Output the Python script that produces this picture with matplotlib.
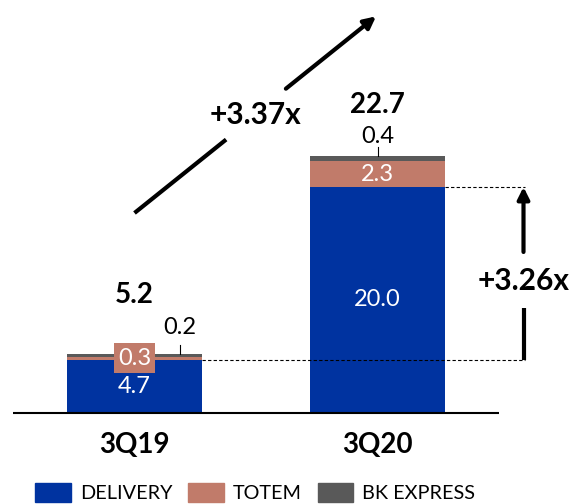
import matplotlib
matplotlib.use("Agg")
import matplotlib.pyplot as plt
from matplotlib.patches import Patch
import numpy as np

categories = ["3Q19", "3Q20"]
delivery = [4.7, 20.0]
totem = [0.3, 2.3]
bk_express = [0.2, 0.4]
totals = [5.2, 22.7]
growth_total = "+3.37x"
growth_delivery = "+3.26x"
series_names = ["DELIVERY", "TOTEM", "BK EXPRESS"]

C_DEL = "#0033A0"
C_TOT = "#C17B6A"
C_BK = "#595959"

plt.rcParams['font.family'] = ['Lato', 'DejaVu Sans']

W, H = 573, 504
fig = plt.figure(figsize=(W / 100, H / 100), dpi=100)
ax = fig.add_axes([0, 0, 1, 1])
px_x = 243.0   # pixels per x unit
px_y = 11.3    # pixels per y unit
x0_px, base_px = 134.5, 413.0
ax.set_xlim(-x0_px / px_x, (W - x0_px) / px_x)
ax.set_ylim(-(H - base_px) / px_y, base_px / px_y)
ax.axis('off')

x = np.arange(len(categories))
bw = 135 / px_x
d = np.array(delivery)
t = np.array(totem)
b = np.array(bk_express)
ax.bar(x, d, bw, color=C_DEL, zorder=2)
ax.bar(x, t, bw, bottom=d, color=C_TOT, zorder=2)
ax.bar(x, b, bw, bottom=d + t, color=C_BK, zorder=2)

# baseline
ax.plot([-0.5, 1.5], [0, 0], color='black', lw=1.5, zorder=3, solid_capstyle='butt')

# category labels
for xi, c in zip(x, categories):
    ax.text(xi, -2.8, c, ha='center', va='center', fontsize=20, fontweight='bold')

# inside labels
for xi, v in zip(x, d):
    ax.text(xi, v / 2, f"{v:.1f}", ha='center', va='center', fontsize=17, color='white', zorder=4)
# totem labels
ax.text(x[0], d[0] + t[0] / 2, f"{t[0]:.1f}", ha='center', va='center', fontsize=17, color='white', zorder=5,
        bbox=dict(boxstyle='square,pad=0.18', fc=C_TOT, ec='none'))
ax.text(x[1], d[1] + t[1] / 2, f"{t[1]:.1f}", ha='center', va='center', fontsize=17, color='white', zorder=4)

# BK express labels with leaders
ax.plot([0.187, 0.187], [totals[0], 6.0], color='black', lw=0.8, zorder=4)
ax.text(0.187, 7.6, f"{b[0]:.1f}", ha='center', va='center', fontsize=17)
ax.plot([1.0, 1.0], [totals[1], 23.5], color='black', lw=0.8, zorder=4)
ax.text(1.0, 24.5, f"{b[1]:.1f}", ha='center', va='center', fontsize=17)

# totals
ax.text(0, 10.45, f"{totals[0]:.1f}", ha='center', va='center', fontsize=20, fontweight='bold')
ax.text(1, 27.3, f"{totals[1]:.1f}", ha='center', va='center', fontsize=20, fontweight='bold')

# dashed reference lines
xr = (525 - x0_px) / px_x
for xi, v in zip(x, d):
    ax.plot([xi + bw / 2, xr], [v, v], color='black', lw=0.8, ls=(0, (3, 2)), zorder=3)

# vertical arrow with gap
xa = (523.5 - x0_px) / px_x
ax.plot([xa, xa], [d[0], 9.3], color='black', lw=3, solid_capstyle='butt')
ax.annotate('', xy=(xa, d[1]), xytext=(xa, 14.25),
            arrowprops=dict(arrowstyle='-|>,head_width=0.35,head_length=0.7', color='black', lw=3,
                            shrinkA=0, shrinkB=0))
ax.text(xa, 11.7, growth_delivery, ha='center', va='center', fontsize=21.5, fontweight='bold')

# diagonal arrow with gap
ax.plot([0, 0.377], [17.7, 24.2], color='black', lw=3, solid_capstyle='butt')
ax.annotate('', xy=(0.994, 35.1), xytext=(0.623, 28.7),
            arrowprops=dict(arrowstyle='-|>,head_width=0.35,head_length=0.7', color='black', lw=3,
                            shrinkA=0, shrinkB=0))
ax.text(0.496, 26.4, growth_total, ha='center', va='center', fontsize=21.5, fontweight='bold')

# legend
handles = [Patch(color=C_DEL), Patch(color=C_TOT), Patch(color=C_BK)]
fig.legend(handles, series_names, loc='upper left', bbox_to_anchor=(35 / W, 1 - 483 / H),
           ncol=3, frameon=False, fontsize=14.3, handlelength=1.8, handleheight=1.1,
           handletextpad=0.45, columnspacing=0.8, borderpad=0, borderaxespad=0)

fig.savefig("out.png", dpi=100)
